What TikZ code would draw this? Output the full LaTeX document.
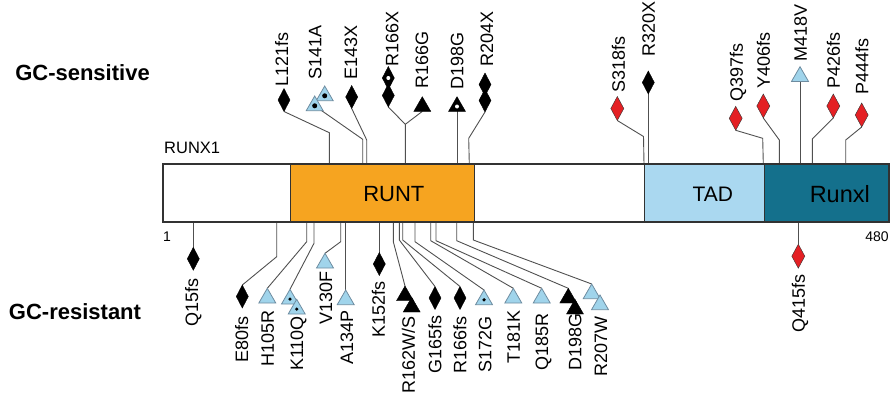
\documentclass[tikz,border=0pt]{standalone}
\usepackage{fontspec}
\setmainfont{Liberation Sans}
\usetikzlibrary{shapes.geometric,backgrounds}
\definecolor{runtC}{RGB}{246,164,32}
\definecolor{tadC}{RGB}{170,216,240}
\definecolor{runxlC}{RGB}{20,112,140}
\definecolor{triC}{RGB}{160,212,235}
\definecolor{triEdge}{RGB}{110,140,160}
\definecolor{redC}{RGB}{228,32,36}
\definecolor{linkC}{RGB}{80,80,80}
\definecolor{barEdge}{RGB}{50,50,50}
\tikzset{
  lab/.style={rotate=90, inner sep=0pt, font=\fontsize{18}{18}\selectfont, text height=12.9pt, text depth=0pt},
  grp/.style={inner sep=0pt, font=\bfseries\fontsize{22}{22}\selectfont, text height=15.75pt, text depth=0pt},
  dom/.style={inner sep=0pt, font=\fontsize{22}{22}\selectfont, text height=15.75pt, text depth=0pt},
  num/.style={inner sep=0pt, font=\fontsize{14}{14}\selectfont, text height=10pt, text depth=0pt},
  dia/.style={diamond, draw=black, fill=black, minimum width=12pt, minimum height=23pt, inner sep=0pt, outer sep=0pt, line width=0.4pt},
  rdia/.style={dia, fill=redC, draw=black!80, minimum width=13pt, minimum height=24pt},
  tri/.style={regular polygon, regular polygon sides=3, minimum size=19.6pt, inner sep=0pt, outer sep=0pt, anchor=corner 1},
  btri/.style={tri, fill=black, draw=black, line width=0.4pt},
  ltri/.style={tri, fill=triC, draw=triEdge, line width=0.8pt},
  link/.style={draw=linkC, line width=0.9pt},
  bdot/.style={circle, fill=black, inner sep=0pt, minimum size=3.6pt},
  wdot/.style={circle, fill=white, inner sep=0pt, minimum size=4pt},
  dombox/.style={rectangle, inner sep=0pt, outer sep=0pt, anchor=north west, minimum height=57.4pt},
}
\begin{document}
\begin{tikzpicture}[x=1pt,y=-1pt]
\useasboundingbox (0,0) rectangle (890,399);

% group captions
\node[grp] (gcs) at (82.5,72.5) {GC-sensitive};
\node[grp] (gcr) at (75,311.7) {GC-resistant};

% protein bar with its domains
\node[num, anchor=base west, text height=12pt, font=\fontsize{16.5}{16.5}\selectfont] (prot) at (164,153.3) {RUNX1};
\node[dombox, fill=white, minimum width=127.4pt] (nterm) at (163.3,164.3) {};
\node[dombox, fill=runtC, minimum width=183.6pt] (runt) at (290.7,164.3) {};
\node[dombox, fill=white, minimum width=169.7pt] (mid) at (474.3,164.3) {};
\node[dombox, fill=tadC, minimum width=120pt] (tad) at (644,164.3) {};
\node[dombox, fill=runxlC, minimum width=125.3pt] (runxl) at (764,164.3) {};
\draw[barEdge, line width=0.9pt] (runt.north west) -- (runt.south west)
  (runt.north east) -- (runt.south east)
  (tad.north west) -- (tad.south west)
  (runxl.north west) -- (runxl.south west);
\draw[barEdge, line width=2pt] (nterm.north west) rectangle (runxl.south east);
\node[dom] (runtL) at (393.8,193.5) {RUNT};
\node[dom, font=\fontsize{21}{21}\selectfont] (tadL) at (712.8,194) {TAD};
\node[dom, font=\fontsize{23.5}{23.5}\selectfont, text height=16.8pt] (runxlL) at (839.8,194) {Runxl};
\node[num] (n1) at (167,236.7) {1};
\node[num] (n480) at (877,236.7) {480};

% ---------- GC-sensitive mutations (above the bar) ----------
\node[dia] (mL121fs) at (284,100) {};
\node[ltri] (mS141Ab) at (324.7,86) {};
\node[bdot, minimum size=5pt] (dS141Ab) at (mS141Ab.center) {};
\node[ltri] (mS141A) at (314.7,96) {};
\node[bdot, minimum size=5pt] (dS141A) at (mS141A.center) {};
\node[dia] (mE143X) at (351.7,97) {};
\node[dia] (mR166Xb) at (388.3,95.5) {};
\node[dia] (mR166X) at (388.3,78) {};
\node[wdot] (wR166X) at (mR166X.center) {};
\node[btri] (mR166G) at (422.3,96.7) {};
\node[btri] (mD198Gt) at (457,96.7) {};
\node[wdot] (wD198Gt) at (mD198Gt.center) {};
\node[dia] (mR204Xa) at (485,84.5) {};
\node[dia] (mR204X) at (485,100.5) {};
\node[rdia] (mS318fs) at (617.3,108.5) {};
\node[dia] (mR320X) at (648.3,82.5) {};
\node[rdia] (mQ397fs) at (735.7,118.3) {};
\node[rdia] (mY406fs) at (763.3,106) {};
\node[ltri] (mM418V) at (800,66.7) {};
\node[rdia] (mP426fs) at (833.3,106) {};
\node[rdia] (mP444fs) at (861.7,115) {};

\node[lab, anchor=west] (lL121fs) at (281.7,87) {L121fs};
\node[lab, anchor=west] (lS141A) at (315,80) {S141A};
\node[lab, anchor=west] (lE143X) at (350.7,80) {E143X};
\node[lab, anchor=west] (lR166X) at (392,67) {R166X};
\node[lab, anchor=west] (lR166G) at (421.7,89) {R166G};
\node[lab, anchor=west] (lD198Gt) at (457,90) {D198G};
\node[lab, anchor=west] (lR204X) at (486.7,66.7) {R204X};
\node[lab, anchor=west] (lS318fs) at (618.3,93) {S318fs};
\node[lab, anchor=west] (lR320X) at (648.3,56.7) {R320X};
\node[lab, anchor=west] (lQ397fs) at (736.3,101.7) {Q397fs};
\node[lab, anchor=west] (lY406fs) at (763.3,88.3) {Y406fs};
\node[lab, anchor=west] (lM418V) at (800.3,61.7) {M418V};
\node[lab, anchor=west] (lP426fs) at (833.3,88.3) {P426fs};
\node[lab, anchor=west] (lP444fs) at (862,95) {P444fs};

% ---------- GC-resistant mutations (below the bar) ----------
\node[dia] (mQ15fs) at (193.3,258.8) {};
\node[dia] (mE80fs) at (242.3,296.5) {};
\node[ltri] (mH105R) at (267.3,288.3) {};
\node[ltri] (mK110Q) at (290,289.3) {};
\node[bdot] (dK110Q) at (mK110Q.center) {};
\node[ltri] (mK110Qb) at (296.7,299.3) {};
\node[bdot] (dK110Qb) at (mK110Qb.center) {};
\node[ltri] (mV130F) at (325,253.3) {};
\node[ltri] (mA134P) at (345.7,290) {};
\node[dia] (mK152fs) at (379.3,264) {};
\node[btri] (mR162WS) at (405,286) {};
\node[btri] (mR162WSb) at (411.7,297.3) {};
\node[dia] (mG165fs) at (435,298) {};
\node[dia] (mR166fs) at (460,298) {};
\node[ltri] (mS172G) at (484,290) {};
\node[bdot] (dS172G) at (mS172G.center) {};
\node[ltri] (mT181K) at (513.3,288.3) {};
\node[ltri] (mQ185R) at (541.7,288.3) {};
\node[btri] (mD198G) at (568.3,288.3) {};
\node[btri] (mD198Gb) at (575,299.3) {};
\node[ltri] (mR207W) at (591.7,284) {};
\node[ltri] (mR207Wb) at (600,295) {};
\node[rdia] (mQ415fs) at (798.3,256.2) {};

\node[lab, anchor=east] (lQ15fs) at (191.7,278.3) {Q15fs};
\node[lab, anchor=east] (lE80fs) at (241.7,316) {E80fs};
\node[lab, anchor=east] (lH105R) at (267.5,310) {H105R};
\node[lab, anchor=east] (lK110Q) at (296.7,316) {K110Q};
\node[lab, anchor=east] (lV130F) at (325.7,271.7) {V130F};
\node[lab, anchor=east] (lA134P) at (346.7,310) {A134P};
\node[lab, anchor=east] (lK152fs) at (378.3,281.7) {K152fs};
\node[lab, anchor=east] (lR162WS) at (408.3,316.7) {R162W/S};
\node[lab, anchor=east] (lG165fs) at (435,315) {G165fs};
\node[lab, anchor=east] (lR166fs) at (460,316.7) {R166fs};
\node[lab, anchor=east] (lS172G) at (485,316.7) {S172G};
\node[lab, anchor=east] (lT181K) at (513.3,310) {T181K};
\node[lab, anchor=east] (lQ185R) at (541.7,313) {Q185R};
\node[lab, anchor=east] (lD198G) at (575,313) {D198G};
\node[lab, anchor=east] (lR207W) at (600.7,316.7) {R207W};
\node[lab, anchor=east] (lQ415fs) at (798.3,274) {Q415fs};

% ---------- connectors from the bar to the markers ----------
\coordinate (j166) at (405.3,124.3);
\begin{pgfonlayer}{background}
  % above the bar
  \draw[link] (mL121fs.south) -- (329.3,132.7) -- (329.3,164.3);
  \draw[link] (mS141A.center) -- (362.7,139.3) -- (362.7,164.3);
  \draw[link] (mE143X.south) -- (366.7,140) -- (366.7,164.3);
  \draw[link] (mR166Xb.south) -- (j166) -- (405.3,164.3);
  \draw[link] (mR166G.side 2) -- (j166);
  \draw[link] (mD198Gt.side 2) -- (457,164.3);
  \draw[link] (mR204X.south) -- (468.7,138.3) -- (469.3,164.3);
  \draw[link] (mS318fs.south) -- (643.5,136.5) -- (644,164.3);
  \draw[link] (mR320X.south) -- (648.3,164.3);
  \draw[link] (mQ397fs.south) -- (762.7,138.3) -- (763.3,164.3);
  \draw[link] (mY406fs.south) -- (779.3,140) -- (779.3,164.3);
  \draw[link] (mM418V.side 2) -- (800,164.3);
  \draw[link] (mP426fs.south) -- (812.3,139) -- (812.3,164.3);
  \draw[link] (mP444fs.south) -- (845.7,140) -- (845.7,164.3);
  % below the bar
  \draw[link] (193.3,221.7) -- (mQ15fs.north);
  \draw[link] (276.7,221.7) -- (276.7,256.7) -- (mE80fs.north);
  \draw[link] (306.7,221.7) -- (306.7,241.7) -- (mH105R.corner 1);
  \draw[link] (314,221.7) -- (314,243.3) -- (mK110Q.corner 1);
  \draw[link] (340.7,221.7) -- (340.7,241.7) -- (mV130F.corner 1);
  \draw[link] (345.7,221.7) -- (mA134P.corner 1);
  \draw[link] (379.3,221.7) -- (mK152fs.north);
  \draw[link] (393.3,221.7) -- (393.3,241.7) -- (mR162WS.corner 1);
  \draw[link] (399.3,221.7) -- (399.3,240) -- (mG165fs.north);
  \draw[link] (402.7,221.7) -- (402.7,240) -- (mR166fs.north);
  \draw[link] (415,221.7) -- (415,241.7) -- (mS172G.corner 1);
  \draw[link] (430.7,221.7) -- (430.7,240.7) -- (mT181K.corner 1);
  \draw[link] (436,221.7) -- (436,240.7) -- (mQ185R.corner 1);
  \draw[link] (456.7,221.7) -- (456.7,240.7) -- (mD198G.corner 1);
  \draw[link] (473.3,221.7) -- (473.3,240) -- (mR207W.corner 1);
  \draw[link] (798.3,221.7) -- (mQ415fs.north);
\end{pgfonlayer}
\end{tikzpicture}
\end{document}
